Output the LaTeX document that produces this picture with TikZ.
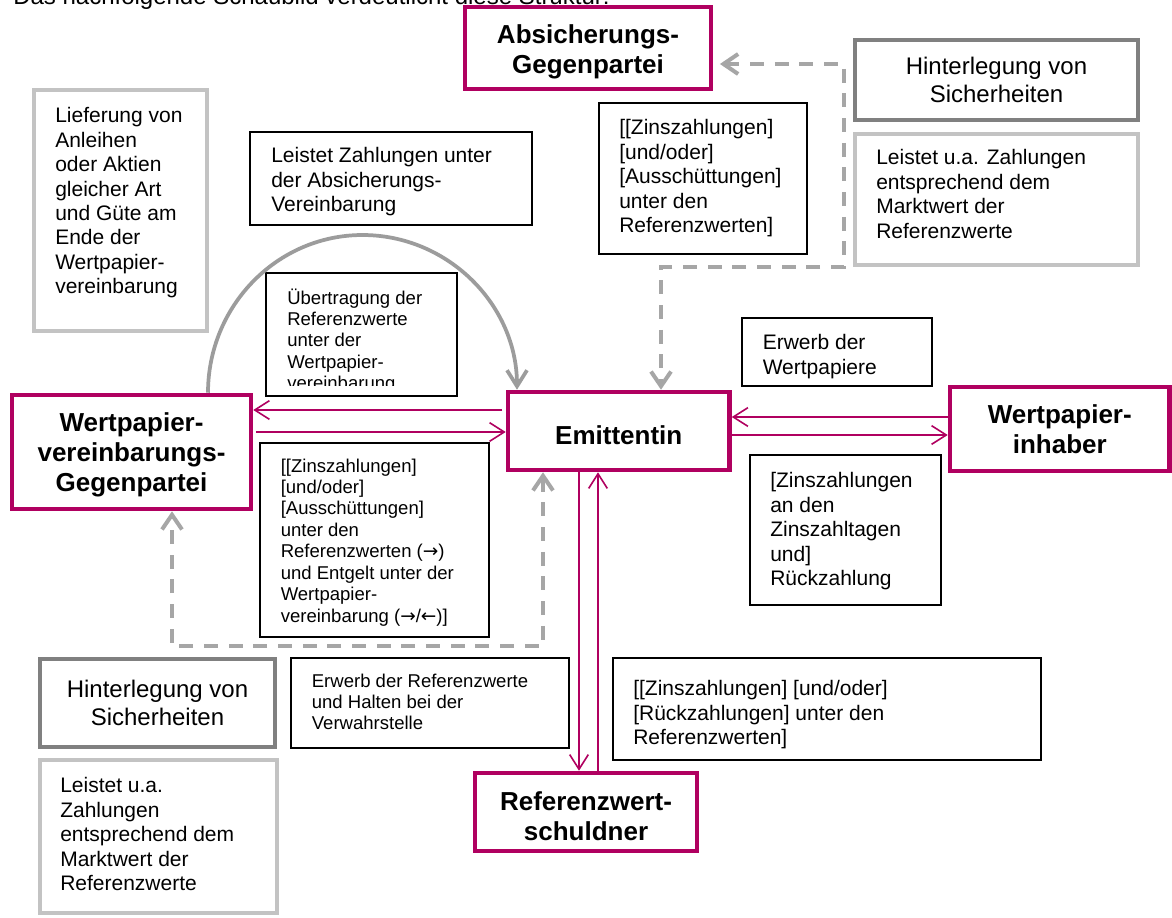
\documentclass[tikz,border=0pt]{standalone}
\usepackage{fontspec}
\setmainfont{Liberation Sans}
\newfontfamily\arrowfont{DejaVu Sans}
\usetikzlibrary{arrows.meta}
\definecolor{mag}{HTML}{B00060}
\definecolor{dgrey}{HTML}{808080}
\definecolor{lgrey}{HTML}{C3C3C3}
\definecolor{agrey}{HTML}{9C9C9C}
\definecolor{dashgrey}{HTML}{A6A6A6}
\newcommand\bx[7]{\node[#2, minimum width={(#5-#3)*0.75pt}, minimum height={(#6-#4)*0.75pt}] (#1) at ({(#3+#5)/2},{(#4+#6)/2}) {#7};}
\begin{document}
\begin{tikzpicture}[x=0.75pt,y=-0.75pt,
  tbox/.style={draw=black, line width=1pt, inner sep=0pt},
  mbox/.style={draw=mag, line width=3.4pt, align=center, inner sep=0pt, font=\fontsize{19.5pt}{22.5pt}\selectfont\bfseries},
  dbox/.style={draw=dgrey, line width=3.5pt, align=center, inner sep=0pt, font=\fontsize{18pt}{21pt}\selectfont},
  lbox/.style={draw=lgrey, line width=3.5pt, inner sep=0pt},
  tR/.style={anchor=north west, inner sep=0pt, align=left, font=\fontsize{15.75pt}{18.3pt}\selectfont},
  tS/.style={anchor=north west, inner sep=0pt, align=left, font=\fontsize{13.9pt}{16.1pt}\selectfont},
  marr/.style={draw=mag, line width=1.2pt, -{Straight Barb[length=11pt,width=14pt]}},
  garc/.style={draw=agrey, line width=2.8pt, -{Straight Barb[length=12pt,width=15pt]}},
  gdash/.style={draw=dashgrey, line width=3pt, dash pattern=on 10.5pt off 8pt,
     {Straight Barb[length=11pt,width=15pt]}-{Straight Barb[length=11pt,width=15pt]}}]
\useasboundingbox (0,0) rectangle (1172,918);
\fill[white] (0,0) rectangle (1172,918);

% title (cut at the top)
\node[anchor=base west, inner sep=0pt, font=\fontsize{18pt}{21pt}\selectfont] (title) at (13,4) {Das nachfolgende Schaubild verdeutlicht diese Struktur:};

% main parties
\bx{absg}{mbox}{465}{7}{711}{89}{\rule{0pt}{1.0em}Absicherungs-\\Gegenpartei}
\bx{wvg}{mbox}{12}{395}{251}{509}{\rule{0pt}{0.94em}Wertpapier-\\vereinbarungs-\\Gegenpartei}
\bx{emi}{mbox}{508}{392}{729.5}{470}{\rule{0pt}{1.07em}Emittentin}
\bx{wpi}{mbox}{950}{387}{1169.5}{471}{Wertpapier-\\inhaber}
\bx{ref}{mbox}{475}{773}{697}{851}{\rule{0pt}{1.08em}Referenzwert-\\schuldner}

% collateral boxes
\bx{hint1}{dbox}{855}{40}{1138}{120}{Hinterlegung von\\Sicherheiten}
\bx{leist1}{lbox}{855}{134}{1138}{265}{}
\node[tR] (leist1t) at (876,143.6) {\rule{0pt}{1em}Leistet u.a. Zahlungen\\entsprechend dem\\Marktwert der\\Referenzwerte};
\bx{hint2}{dbox}{40}{659}{275}{747}{Hinterlegung von\\Sicherheiten}
\bx{leist2}{lbox}{40}{760}{277}{913}{}
\node[tR] (leist2t) at (60,771.6) {\rule{0pt}{1em}Leistet u.a.\\Zahlungen\\entsprechend dem\\Marktwert der\\Referenzwerte};
\bx{lief}{lbox}{34}{90}{207}{331}{}
\node[tR] (lieft) at (55,101.6) {\rule{0pt}{1em}Lieferung von\\Anleihen\\oder Aktien\\gleicher Art\\und Güte am\\Ende der\\Wertpapier-\\vereinbarung};

% thin text boxes
\bx{leistz}{tbox}{250}{132}{532}{225}{}
\node[tR] (leistzt) at (271,141.6) {\rule{0pt}{1em}Leistet Zahlungen unter\\der Absicherungs-\\Vereinbarung};
\bx{zins1}{tbox}{599}{103}{807}{254}{}
\node[tR] (zins1t) at (619,113.6) {\rule{0pt}{1em}[[Zinszahlungen]\\{}[und/oder]\\{}[Ausschüttungen]\\unter den\\Referenzwerten]};
\bx{uebert}{tbox}{266}{273}{457}{396}{}
\begin{scope}
\clip (266,273) rectangle (457,385);
\node[tS] (uebertt) at (287,285.2) {\rule{0pt}{1em}Übertragung der\\Referenzwerte\\unter der\\Wertpapier-\\vereinbarung};
\end{scope}
\bx{erwwp}{tbox}{742}{318}{932}{386}{}
\node[tR] (erwwpt) at (762.5,328.6) {\rule{0pt}{1em}Erwerb der\\Wertpapiere};
\bx{zinsrz}{tbox}{750}{455}{941}{605}{}
\node[tR] (zinsrzt) at (770,466.6) {\rule{0pt}{1em}[Zinszahlungen\\an den\\Zinszahltagen\\und]\\Rückzahlung};
\bx{zins2}{tbox}{260}{443}{489}{637}{}
\node[tS] (zins2t) at (280.5,453.2) {\rule{0pt}{1em}[[Zinszahlungen]\\{}[und/oder]\\{}[Ausschüttungen]\\unter den\\Referenzwerten ({\arrowfont →})\\und Entgelt unter der\\Wertpapier-\\vereinbarung ({\arrowfont →}/{\arrowfont ←})]};
\bx{erwref}{tbox}{291}{658}{569}{748}{}
\node[tS] (erwreft) at (311.6,668.2) {\rule{0pt}{1em}Erwerb der Referenzwerte\\und Halten bei der\\Verwahrstelle};
\bx{zins3}{tbox}{613}{658}{1041}{760}{}
\node[tR] (zins3t) at (633,674.6) {\rule{0pt}{1em}[[Zinszahlungen] [und/oder]\\{}[Rückzahlungen] unter den\\Referenzwerten]};

% magenta flows
\draw[marr, shorten <=2.5pt] (emi.west |- 0,410) -- (wvg.east |- 0,410);
\draw[marr, shorten <=2pt] (wvg.east |- 0,432) -- (emi.west |- 0,432);
\draw[marr] (wpi.west |- 0,417) -- (emi.east |- 0,417);
\draw[marr] (emi.east |- 0,435) -- (wpi.west |- 0,435);
\draw[marr] (emi.south -| 579,0) -- (ref.north -| 579,0);
\draw[marr] (ref.north -| 598,0) -- (emi.south -| 598,0);

% grey arc
\draw[garc] (wvg.north -| 208,0) .. controls (208,306) and (277,235) .. (362.5,235)
   .. controls (448,235) and (517,305) .. (emi.north -| 517,0);

% dashed collateral flows
\draw[gdash, shorten <=5pt] (absg.east |- 0,64) -- (844,64) -- (844,267) -- (661,267) -- (emi.north -| 661,0);
\draw[gdash] (emi.south -| 543,0) -- (543,646) -- (172,646) -- (wvg.south -| 172,0);
\end{tikzpicture}
\end{document}
